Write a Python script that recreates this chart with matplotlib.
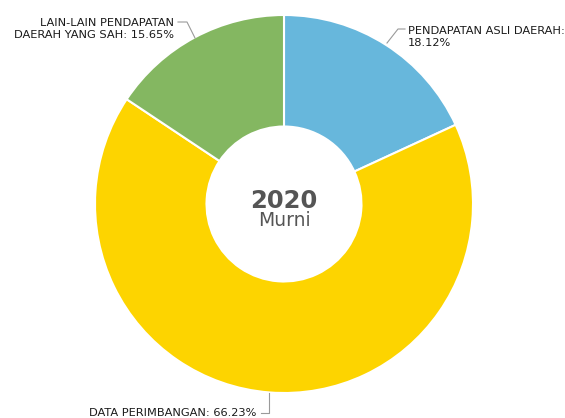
import matplotlib
matplotlib.use("Agg")
import matplotlib.pyplot as plt

# slice data, clockwise from the top
labels = ["PENDAPATAN ASLI DAERAH", "DATA PERIMBANGAN", "LAIN-LAIN PENDAPATAN\nDAERAH YANG SAH"]
values = [18.12, 66.23, 15.65]
colors = ["#67b7dc", "#fdd400", "#84b761"]

W, H = 565, 418
fig = plt.figure(figsize=(W / 100, H / 100), dpi=100)
ax = fig.add_axes([0, 0, 1, 1])

cx, cy, r = 284, H - 204, 189
ax.pie(values, colors=colors, startangle=90, counterclock=False,
       center=(cx, cy), radius=r, frame=True,
       wedgeprops=dict(width=r * 0.59, edgecolor="white", linewidth=1.5))
ax.set_xlim(0, W)
ax.set_ylim(0, H)
ax.set_aspect("equal")
ax.axis("off")

fs = 8.2
line_kw = dict(color="#9a9a9a", linewidth=0.8)

# pendapatan asli daerah (top right)
ax.plot([387, 398, 405], [H - 43, H - 29, H - 29], **line_kw)
ax.text(408, H - 37, labels[0] + ":\n" + f"{values[0]:.2f}%", fontsize=fs,
        ha="left", va="center", color="#1a1a1a", linespacing=1.25)

# lain-lain (top left)
ax.plot([195, 187, 178], [H - 38, H - 22, H - 22], **line_kw)
ax.text(174, H - 29, labels[2] + f": {values[2]:.2f}%", fontsize=fs,
        ha="right", va="center", color="#1a1a1a", linespacing=1.25)

# data perimbangan (bottom)
ax.plot([269, 269, 261], [H - 393, H - 413, H - 413], **line_kw)
ax.text(256, H - 413, labels[1] + f": {values[1]:.2f}%", fontsize=fs,
        ha="right", va="center", color="#1a1a1a")

ax.text(cx, H - 201, "2020", fontsize=17.5, fontweight="bold", color="#555555",
        ha="center", va="center")
ax.text(cx, H - 221, "Murni", fontsize=13.5, color="#555555",
        ha="center", va="center")

fig.savefig("out.png", dpi=100)
